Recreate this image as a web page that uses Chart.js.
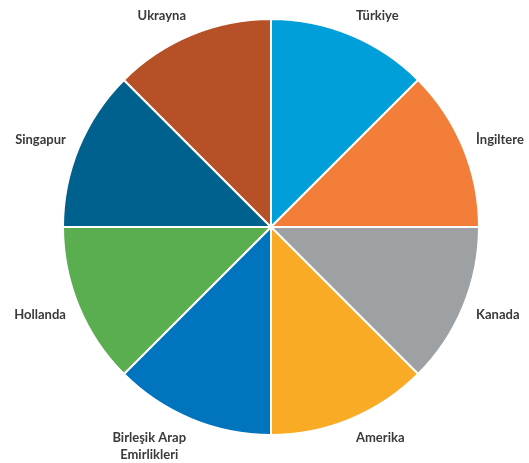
<!DOCTYPE html>
<html>
<head>
<meta charset="utf-8">
<script src="https://cdn.jsdelivr.net/npm/chart.js@4"></script>
<style>
    html, body { margin: 0; padding: 0; background: #fff; }
    #wrap { width: 529px; height: 463px; }
</style>
</head>
<body>
<div id="wrap"><canvas id="myChart" width="529" height="463"></canvas></div>
<script>
const countries = ['Türkiye', 'İngiltere', 'Kanada', 'Amerika', ['Birleşik Arap', 'Emirlikleri'], 'Hollanda', 'Singapur', 'Ukrayna'];
const shares = [1, 1, 1, 1, 1, 1, 1, 1];
const sliceColors = ['#009fda', '#f27e3a', '#9da1a4', '#f9ab26', '#0075be', '#5aae50', '#00618f', '#b65026'];

// draws each country name just outside its slice
const outerLabels = {
    id: 'outerLabels',
    afterDatasetsDraw(chart) {
        const ctx = chart.ctx;
        const meta = chart.getDatasetMeta(0);
        ctx.save();
        ctx.font = 'bold 13px Lato';
        ctx.fillStyle = '#3a3a3a';
        ctx.textAlign = 'center';
        ctx.textBaseline = 'middle';
        const lineH = 17;
        meta.data.forEach(function (arc, i) {
            const mid = (arc.startAngle + arc.endAngle) / 2;
            const ux = Math.cos(mid);
            const uy = Math.sin(mid);
            const ax = arc.x + ux * (arc.outerRadius + 8);
            const ay = arc.y + uy * (arc.outerRadius + 8);
            const lines = [].concat(chart.data.labels[i]);
            const w = Math.max.apply(null, lines.map(l => ctx.measureText(l).width));
            const h = lines.length * lineH;
            const cx = ax + Math.sign(ux) * w / 2 + ux * 6;
            const cy = ay + uy * (h / 2 + 4);
            lines.forEach(function (line, j) {
                ctx.fillText(line, cx, cy - h / 2 + lineH / 2 + j * lineH);
            });
        });
        ctx.restore();
    }
};

new Chart(document.getElementById('myChart').getContext('2d'), {
    type: 'pie',
    data: {
        labels: countries,
        datasets: [{
            data: shares,
            backgroundColor: sliceColors,
            borderColor: '#ffffff',
            borderWidth: 2
        }]
    },
    options: {
        responsive: false,
        animation: false,
        layout: { padding: { top: 18, bottom: 27, left: 62, right: 49 } },
        plugins: {
            legend: { display: false },
            tooltip: { enabled: false }
        }
    },
    plugins: [outerLabels]
});
</script>
</body>
</html>
